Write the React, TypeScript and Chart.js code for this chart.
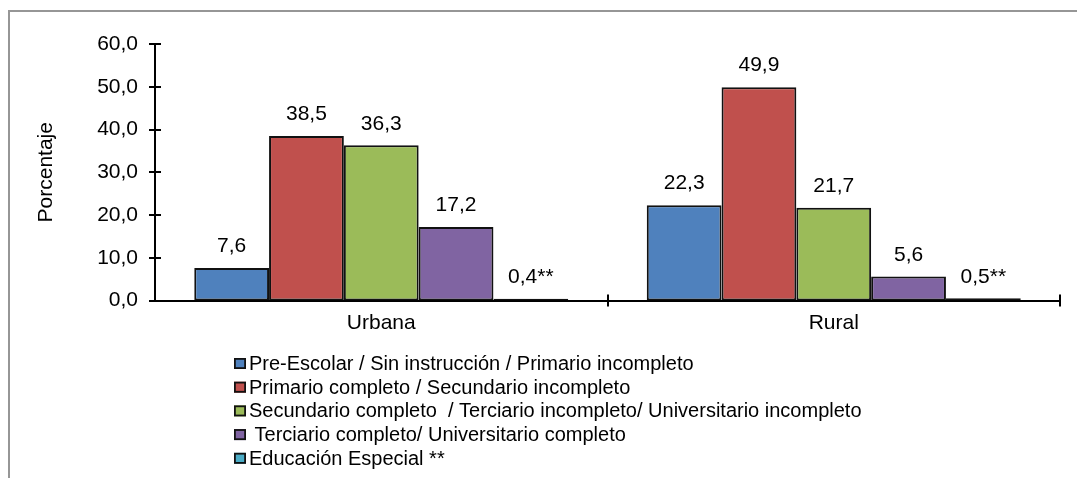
import React, { useEffect, useRef } from 'react';
import { Chart, registerables } from 'chart.js';

Chart.register(...registerables);

const categories = ['Urbana', 'Rural'];
const seriesLabels = [
  'Pre-Escolar / Sin instrucción / Primario incompleto',
  'Primario completo / Secundario incompleto',
  'Secundario completo  / Terciario incompleto/ Universitario incompleto',
  ' Terciario completo/ Universitario completo',
  'Educación Especial **',
];
const preEscolar = [7.6, 22.3];
const primarioCompleto = [38.5, 49.9];
const secundarioCompleto = [36.3, 21.7];
const terciarioCompleto = [17.2, 5.6];
const educacionEspecial = [0.4, 0.5];
const labelSuffixes = ['', '', '', '', '**'];
const seriesColors = ['#4F81BD', '#C0504D', '#9BBB59', '#8064A2', '#4BACC6'];
const yMin = 0;
const yMax = 60;
const yStep = 10;

const FONT = '"Liberation Sans", Arial, sans-serif';

const fmt = (v: number) => v.toFixed(1).replace('.', ',');

const overlayPlugin = {
  id: 'overlay',
  afterDatasetsDraw(chart: any) {
    const ctx = chart.ctx;
    const { left, bottom } = chart.chartArea;
    const xs = chart.scales.x;
    const ys = chart.scales.y;
    ctx.save();
    ctx.strokeStyle = '#000';
    ctx.lineWidth = 2;
    ys.ticks.forEach((t: any) => {
      const py = Math.round(ys.getPixelForValue(t.value));
      ctx.beginPath();
      ctx.moveTo(left - 6, py);
      ctx.lineTo(left + 6, py);
      ctx.stroke();
    });
    const n = xs.ticks.length;
    const w = (xs.right - xs.left) / n;
    for (let i = 1; i <= n; i++) {
      const px = Math.round(xs.left + i * w);
      ctx.beginPath();
      ctx.moveTo(px, bottom - 6);
      ctx.lineTo(px, bottom + 6);
      ctx.stroke();
    }
    ctx.font = '21px ' + FONT;
    ctx.fillStyle = '#000';
    ctx.textAlign = 'center';
    ctx.textBaseline = 'middle';
    chart.data.datasets.forEach((ds: any, di: number) => {
      const meta = chart.getDatasetMeta(di);
      meta.data.forEach((bar: any, i: number) => {
        ctx.fillText(fmt(ds.data[i]) + labelSuffixes[di], bar.x, bar.y - 21.5);
      });
    });
    ctx.restore();
  },
  afterDraw(chart: any) {
    const ctx = chart.ctx;
    ctx.save();
    ctx.font = '20px ' + FONT;
    ctx.textAlign = 'left';
    ctx.textBaseline = 'middle';
    chart.data.datasets.forEach((ds: any, di: number) => {
      const top = 346 + di * 23.7;
      const bx = 224;
      ctx.fillStyle = ds.backgroundColor;
      ctx.fillRect(bx, top, 12, 11);
      ctx.strokeStyle = '#111';
      ctx.lineWidth = 1.8;
      ctx.strokeRect(bx + 0.9, top + 0.9, 10.2, 9.2);
      ctx.fillStyle = '#000';
      ctx.fillText(ds.label, 239, top + 6.5);
    });
    ctx.restore();
  },
};

export default function App() {
  const canvasRef = useRef<HTMLCanvasElement | null>(null);

  useEffect(() => {
    if (!canvasRef.current) return;
    Chart.defaults.font.family = FONT;
    Chart.defaults.color = '#000';
    const seriesData = [preEscolar, primarioCompleto, secundarioCompleto, terciarioCompleto, educacionEspecial];
    const chart = new Chart(canvasRef.current, {
      type: 'bar',
      data: {
        labels: categories,
        datasets: seriesData.map((d, i) => ({
          label: seriesLabels[i],
          data: d,
          backgroundColor: seriesColors[i],
          borderColor: '#111',
          borderWidth: 2,
          borderSkipped: false,
          categoryPercentage: 0.8265,
          barPercentage: 1,
        })),
      },
      options: {
        animation: false,
        responsive: false,
        layout: { padding: { top: 32, right: 17, left: 0, bottom: 0 } },
        plugins: {
          legend: { display: false },
          tooltip: { enabled: false },
        },
        scales: {
          x: {
            grid: { display: false, drawTicks: false },
            border: { display: true, color: '#000', width: 2 },
            ticks: { font: { size: 21, family: FONT }, color: '#000', padding: 10 },
            afterFit: (s: any) => { s.height = 177.5; },
          },
          y: {
            min: yMin,
            max: yMax,
            grid: { display: false, drawTicks: false },
            border: { display: true, color: '#000', width: 2 },
            ticks: {
              stepSize: yStep,
              font: { size: 21, family: FONT },
              color: '#000',
              padding: 17,
              callback: (v: any) => fmt(Number(v)),
            },
            title: {
              display: true,
              text: 'Porcentaje',
              font: { size: 21, family: FONT },
              color: '#000',
              padding: { top: 24, bottom: 0 },
            },
            afterFit: (s: any) => { s.width = 145; },
          },
        },
      },
      plugins: [overlayPlugin],
    });
    return () => chart.destroy();
  }, []);

  return (
    <div
      style={{
        position: 'fixed',
        left: 8,
        top: 10,
        width: 1067,
        height: 466,
        borderTop: '2px solid #969696',
        borderLeft: '2px solid #969696',
        background: '#fff',
      }}
    >
      <canvas ref={canvasRef} width={1067} height={466} style={{ display: 'block' }} />
    </div>
  );
}
